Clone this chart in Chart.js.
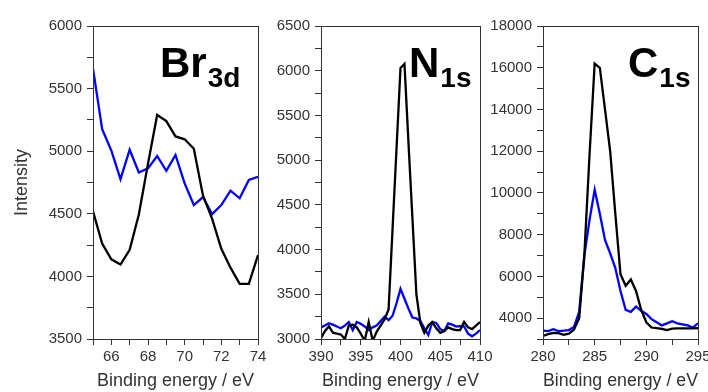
<!DOCTYPE html>
<html>
<head>
<meta charset="utf-8">
<script src="https://cdn.jsdelivr.net/npm/chart.js@4"></script>
<style>
  html, body { margin: 0; padding: 0; background: #fff; }
  #wrap { position: relative; width: 708px; height: 392px; overflow: hidden; }
  canvas { position: absolute; left: 0; top: 0; }
</style>
</head>
<body>
<div id="wrap">
  <canvas id="c1" width="708" height="392"></canvas>
  <canvas id="c2" width="708" height="392"></canvas>
  <canvas id="c3" width="708" height="392"></canvas>
</div>
<script>
// ---------- Br 3d ----------
const brEnergy = [65, 65.5, 66, 66.5, 67, 67.5, 68, 68.5, 69, 69.5, 70, 70.5, 71, 71.5, 72, 72.5, 73, 73.5, 74];
const brBlack  = [4520, 4262, 4136, 4095, 4213, 4495, 4900, 5289, 5240, 5118, 5095, 5020, 4645, 4460, 4220, 4070, 3940, 3940, 4170];
const brBlue   = [5660, 5175, 5005, 4777, 5012, 4830, 4863, 4962, 4843, 4970, 4743, 4570, 4634, 4497, 4570, 4685, 4624, 4770, 4796];
const brXTicks = [65, 66, 67, 68, 69, 70, 71, 72, 73, 74];
const brXLabels = [66, 68, 70, 72, 74];
const brYTicks = [3500, 3750, 4000, 4250, 4500, 4750, 5000, 5250, 5500, 5750, 6000];
const brYLabels = [3500, 4000, 4500, 5000, 5500, 6000];

// ---------- N 1s ----------
const nEnergy = [390, 390.5, 391, 391.5, 392, 392.5, 393, 393.5, 394, 394.5, 395, 395.5, 396, 396.5, 397, 397.5, 398, 398.5, 399, 399.5,
                 400, 400.5, 401, 401.5, 402, 402.5, 403, 403.5, 404, 404.5, 405, 405.5, 406, 406.5, 407, 407.5, 408, 408.5, 409, 409.5, 410];
const nBlack = [3010, 3090, 3140, 3070, 3060, 3050, 3000, 3150, 3160, 3130, 3060, 2980, 3190, 2980, 3080, 3150, 3220, 3330, 4230, 5130,
                6030, 6075, 5200, 4350, 3500, 3180, 3070, 3150, 3190, 3120, 3070, 3090, 3130, 3110, 3100, 3100, 3190, 3130, 3110, 3150, 3190];
const nBlue  = [3130, 3150, 3175, 3160, 3140, 3120, 3150, 3190, 3100, 3190, 3170, 3140, 3100, 3130, 3150, 3200, 3250, 3210, 3260, 3400,
                3560, 3450, 3340, 3240, 3230, 3200, 3120, 3045, 3190, 3180, 3110, 3090, 3175, 3160, 3140, 3145, 3140, 3060, 3030, 3060, 3100];
const nXTicks = [390, 392.5, 395, 397.5, 400, 402.5, 405, 407.5, 410];
const nXLabels = [390, 395, 400, 405, 410];
const nYTicks = [3000, 3250, 3500, 3750, 4000, 4250, 4500, 4750, 5000, 5250, 5500, 5750, 6000, 6250, 6500];
const nYLabels = [3000, 3500, 4000, 4500, 5000, 5500, 6000, 6500];

// ---------- C 1s ----------
const cEnergy = [280, 280.5, 281, 281.5, 282, 282.5, 283, 283.5, 284, 284.5, 285, 285.5, 286, 286.5, 287, 287.5,
                 288, 288.5, 289, 289.5, 290, 290.5, 291, 291.5, 292, 292.5, 293, 293.5, 294, 294.5, 295];
const cBlack = [3150, 3230, 3290, 3280, 3200, 3260, 3450, 4000, 7000, 11800, 16200, 16000, 14000, 12000, 9000, 6100,
                5550, 5850, 5300, 4400, 3800, 3550, 3520, 3480, 3430, 3500, 3510, 3510, 3510, 3510, 3520];
const cBlue  = [3400, 3380, 3470, 3380, 3400, 3430, 3580, 4300, 7000, 8700, 10150, 9000, 7750, 7100, 6400, 5300,
                4400, 4300, 4550, 4350, 4200, 3950, 3800, 3650, 3750, 3850, 3750, 3700, 3650, 3550, 3750];
const cXTicks = [280, 282.5, 285, 287.5, 290, 292.5, 295];
const cXLabels = [280, 285, 290, 295];
const cYTicks = [3000, 4000, 5000, 6000, 7000, 8000, 9000, 10000, 11000, 12000, 13000, 14000, 15000, 16000, 17000, 18000];
const cYLabels = [4000, 6000, 8000, 10000, 12000, 14000, 16000, 18000];

const FONT = "'Liberation Sans', Arial, sans-serif";
const AXIS = '#333333';
const TEXT = '#333333';

function pts(xs, ys) { return xs.map((x, i) => ({ x: x, y: ys[i] })); }

const framePlugin = {
  id: 'frame',
  afterDraw(chart, args, opts) {
    const { ctx, chartArea: a } = chart;
    ctx.save();
    ctx.strokeStyle = AXIS;
    ctx.lineWidth = 1;
    ctx.strokeRect(Math.round(a.left) + 0.5, Math.round(a.top) + 0.5,
                   Math.round(a.right - a.left), Math.round(a.bottom - a.top));
    // element label
    ctx.fillStyle = '#000';
    ctx.textBaseline = 'alphabetic';
    ctx.font = 'bold 42px ' + FONT;
    ctx.fillText(opts.main, opts.x, opts.y);
    const w = ctx.measureText(opts.main).width;
    ctx.font = 'bold 28px ' + FONT;
    ctx.fillText(opts.sub, opts.x + w + 1, opts.y + 10);
    ctx.restore();
  }
};

function makeChart(id, cfg) {
  const xTicks = cfg.xTicks, xLabels = cfg.xLabels, yTicks = cfg.yTicks, yLabels = cfg.yLabels;
  return new Chart(document.getElementById(id), {
    type: 'line',
    data: {
      datasets: [
        { data: pts(cfg.energy, cfg.black), borderColor: '#000000', borderWidth: 2.3, pointRadius: 0, tension: 0, fill: false },
        { data: pts(cfg.energy, cfg.blue), borderColor: '#0000ff', borderWidth: 2.3, pointRadius: 0, tension: 0, fill: false }
      ]
    },
    options: {
      responsive: false,
      animation: false,
      events: [],
      layout: { padding: { left: cfg.padLeft, right: cfg.padRight, top: 26, bottom: 0 } },
      plugins: {
        legend: { display: false },
        tooltip: { enabled: false },
        frame: { main: cfg.main, sub: cfg.sub, x: cfg.labelX, y: 77 }
      },
      scales: {
        x: {
          type: 'linear',
          min: xTicks[0], max: xTicks[xTicks.length - 1],
          afterBuildTicks: (s) => { s.ticks = xTicks.map(v => ({ value: v })); },
          afterFit: (s) => { s.height = 53; s.paddingLeft = 0; s.paddingRight = 0; },
          grid: { display: true, drawOnChartArea: false, drawTicks: true, tickLength: 6, color: AXIS, tickColor: AXIS },
          border: { display: true, color: AXIS, width: 1 },
          ticks: {
            autoSkip: false, maxRotation: 0, padding: 3, color: TEXT,
            font: { family: FONT, size: 15 },
            callback: (v) => xLabels.includes(v) ? String(v) : ''
          },
          title: { display: true, text: 'Binding energy / eV', color: TEXT, font: { family: FONT, size: 18 }, padding: { top: 0, bottom: 0 } }
        },
        y: {
          type: 'linear',
          min: yTicks[0], max: yTicks[yTicks.length - 1],
          afterBuildTicks: (s) => { s.ticks = yTicks.map(v => ({ value: v })); },
          afterFit: (s) => { s.width = cfg.yWidth; s.paddingTop = 0; s.paddingBottom = 0; },
          grid: { display: true, drawOnChartArea: false, drawTicks: true, tickLength: 6, color: AXIS, tickColor: AXIS },
          border: { display: true, color: AXIS, width: 1 },
          ticks: {
            autoSkip: false, padding: 5, color: TEXT,
            font: { family: FONT, size: 15 },
            callback: (v) => yLabels.includes(v) ? String(v) : ''
          },
          title: { display: cfg.yTitle, text: 'Intensity', color: TEXT, font: { family: FONT, size: 18 }, padding: { top: 11, bottom: 0 } }
        }
      }
    },
    plugins: [framePlugin]
  });
}

makeChart('c1', { energy: brEnergy, black: brBlack, blue: brBlue, xTicks: brXTicks, xLabels: brXLabels, yTicks: brYTicks, yLabels: brYLabels,
  padLeft: 0, padRight: 450, yWidth: 93, yTitle: true, main: 'Br', sub: '3d', labelX: 160 });
makeChart('c2', { energy: nEnergy, black: nBlack, blue: nBlue, xTicks: nXTicks, xLabels: nXLabels, yTicks: nYTicks, yLabels: nYLabels,
  padLeft: 262, padRight: 228, yWidth: 59, yTitle: false, main: 'N', sub: '1s', labelX: 409 });
makeChart('c3', { energy: cEnergy, black: cBlack, blue: cBlue, xTicks: cXTicks, xLabels: cXLabels, yTicks: cYTicks, yLabels: cYLabels,
  padLeft: 484, padRight: 10, yWidth: 59, yTitle: false, main: 'C', sub: '1s', labelX: 628 });
</script>
</body>
</html>
